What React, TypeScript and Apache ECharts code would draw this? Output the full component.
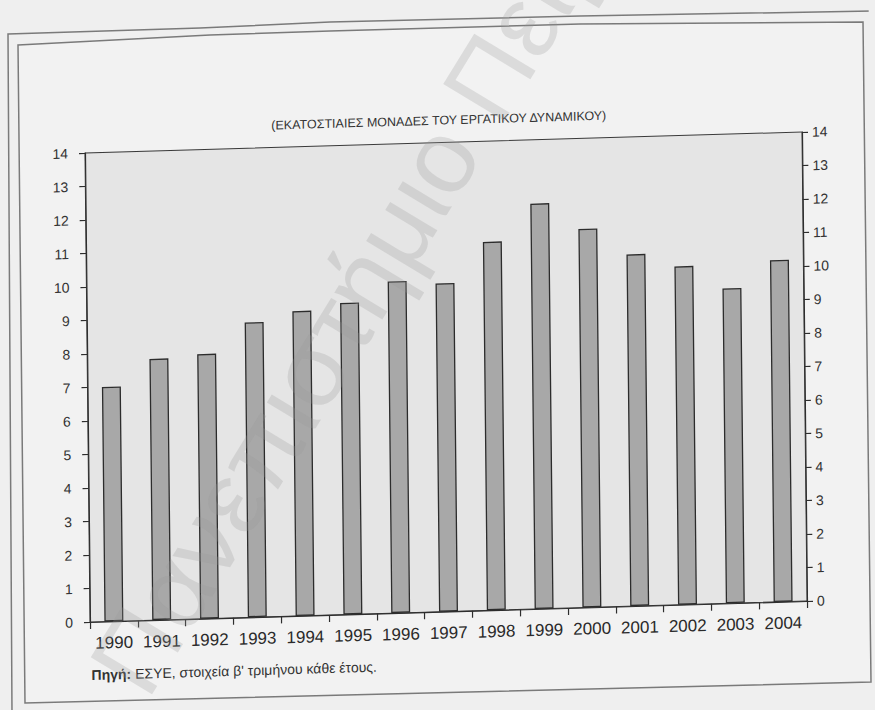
import React, { useEffect, useRef } from "react";
import * as echarts from "echarts";

// ---- data ----
const years = ["1990", "1991", "1992", "1993", "1994", "1995", "1996", "1997", "1998", "1999", "2000", "2001", "2002", "2003", "2004"];
const unemploymentRate = [7.0, 7.8, 7.9, 8.8, 9.1, 9.3, 9.9, 9.8, 11.0, 12.1, 11.3, 10.5, 10.1, 9.4, 10.2];
const axisMin = 0;
const axisMax = 14;
const axisStep = 1;
const titleText = "(ΕΚΑΤΟΣΤΙΑΙΕΣ ΜΟΝΑΔΕΣ ΤΟΥ ΕΡΓΑΤΙΚΟΥ ΔΥΝΑΜΙΚΟΥ)";
const sourceLabel = "Πηγή:";
const sourceText = " ΕΣΥΕ, στοιχεία β' τριμήνου κάθε έτους.";
const watermarkText = "Πανεπιστήμιο Πειραιά";

// scanned page is slightly skewed: affine transform applied to the chart layer
const M = { a: 1, b: -0.0293, c: 0.0107, d: 1, e: -6.66, f: 2.64 };
function toDesign(p: number[]): number[] {
  const X = p[0] - M.e;
  const Y = p[1] - M.f;
  const det = M.a * M.d - M.b * M.c;
  return [(M.d * X - M.c * Y) / det, (-M.b * X + M.a * Y) / det];
}

// decorative double frame of the scanned page (page coordinates)
const outerFrame = [[8, 34], [200, 28], [330, 22], [580, 16], [873, 11], [877, 692], [12, 714]];
const innerFrame = [[18, 45], [210, 35], [330, 31], [580, 24], [863, 22], [871, 682], [25, 703]];

const FONT = "Liberation Sans, Arial, sans-serif";

export default function App() {
  const ref = useRef<HTMLDivElement>(null);

  useEffect(() => {
    if (!ref.current) return;
    const chart = echarts.init(ref.current, null, { renderer: "svg" });
    const option: any = {
      animation: false,
      backgroundColor: "transparent",
      grid: {
        left: 90,
        right: 68,
        top: 153,
        bottom: 88,
        show: true,
        backgroundColor: "#e5e5e5",
        borderColor: "#3a3a3a",
        borderWidth: 1,
      },
      xAxis: {
        type: "category",
        data: years,
        axisLine: { show: true, lineStyle: { color: "#2e2e2e", width: 1.2 } },
        axisTick: { show: true, length: 7, lineStyle: { color: "#2e2e2e", width: 1.2 } },
        axisLabel: {
          interval: 0,
          hideOverlap: false,
          color: "#2a2a2a",
          fontFamily: FONT,
          fontSize: 17,
          margin: 13,
        },
      },
      yAxis: [
        {
          type: "value",
          position: "left",
          min: axisMin,
          max: axisMax,
          interval: axisStep,
          splitLine: { show: false },
          axisLine: { show: true, lineStyle: { color: "#2e2e2e", width: 1.2 } },
          axisTick: { show: true, length: 6, lineStyle: { color: "#2e2e2e", width: 1.2 } },
          axisLabel: { color: "#333", fontFamily: FONT, fontSize: 14, margin: 17 },
        },
        {
          type: "value",
          position: "right",
          min: axisMin,
          max: axisMax,
          interval: axisStep,
          splitLine: { show: false },
          axisLine: { show: true, lineStyle: { color: "#2e2e2e", width: 1.2 } },
          axisTick: { show: true, length: 6, lineStyle: { color: "#2e2e2e", width: 1.2 } },
          axisLabel: { color: "#333", fontFamily: FONT, fontSize: 14, margin: 10 },
        },
      ],
      series: [
        {
          type: "bar",
          yAxisIndex: 0,
          data: unemploymentRate,
          barWidth: 19,
          itemStyle: { color: "#a8a8a8", borderColor: "#2c2c2c", borderWidth: 1.3 },
        },
      ],
      graphic: [
        {
          type: "polygon",
          z: -1,
          shape: { points: outerFrame.map(toDesign) },
          style: { fill: "none", stroke: "#7a7a7a", lineWidth: 1.5 },
        },
        {
          type: "polygon",
          z: -1,
          shape: { points: innerFrame.map(toDesign) },
          style: { fill: "#f2f2f2", stroke: "#7a7a7a", lineWidth: 1.5 },
        },
        {
          type: "text",
          x: 444,
          y: 131,
          style: {
            text: titleText,
            fill: "#333",
            font: `12.5px ${FONT}`,
            textAlign: "center",
            textVerticalAlign: "middle",
          },
        },
        {
          type: "text",
          x: 91,
          y: 675,
          style: {
            text: `{b|${sourceLabel}}{n|${sourceText}}`,
            textAlign: "left",
            textVerticalAlign: "middle",
            rich: {
              b: { fontFamily: FONT, fontSize: 14, fontWeight: "bold", fill: "#333" },
              n: { fontFamily: FONT, fontSize: 14, fill: "#333" },
            },
          },
        },
        {
          type: "text",
          x: 160,
          y: 712,
          rotation: (57.5 * Math.PI) / 180,
          z: 100,
          style: {
            text: watermarkText,
            fill: "rgba(150,150,150,0.25)",
            font: `105px ${FONT}`,
            textAlign: "left",
            textVerticalAlign: "bottom",
          },
        },
      ],
    };
    chart.setOption(option);
    return () => chart.dispose();
  }, []);

  return (
    <div
      style={{
        position: "fixed",
        left: 0,
        top: 0,
        width: 875,
        height: 710,
        background: "#efefef",
        overflow: "hidden",
      }}
    >
      <div
        ref={ref}
        style={{
          position: "absolute",
          left: 0,
          top: 0,
          width: 875,
          height: 710,
          transformOrigin: "0 0",
          transform: `matrix(${M.a},${M.b},${M.c},${M.d},${M.e},${M.f})`,
        }}
      />
    </div>
  );
}
